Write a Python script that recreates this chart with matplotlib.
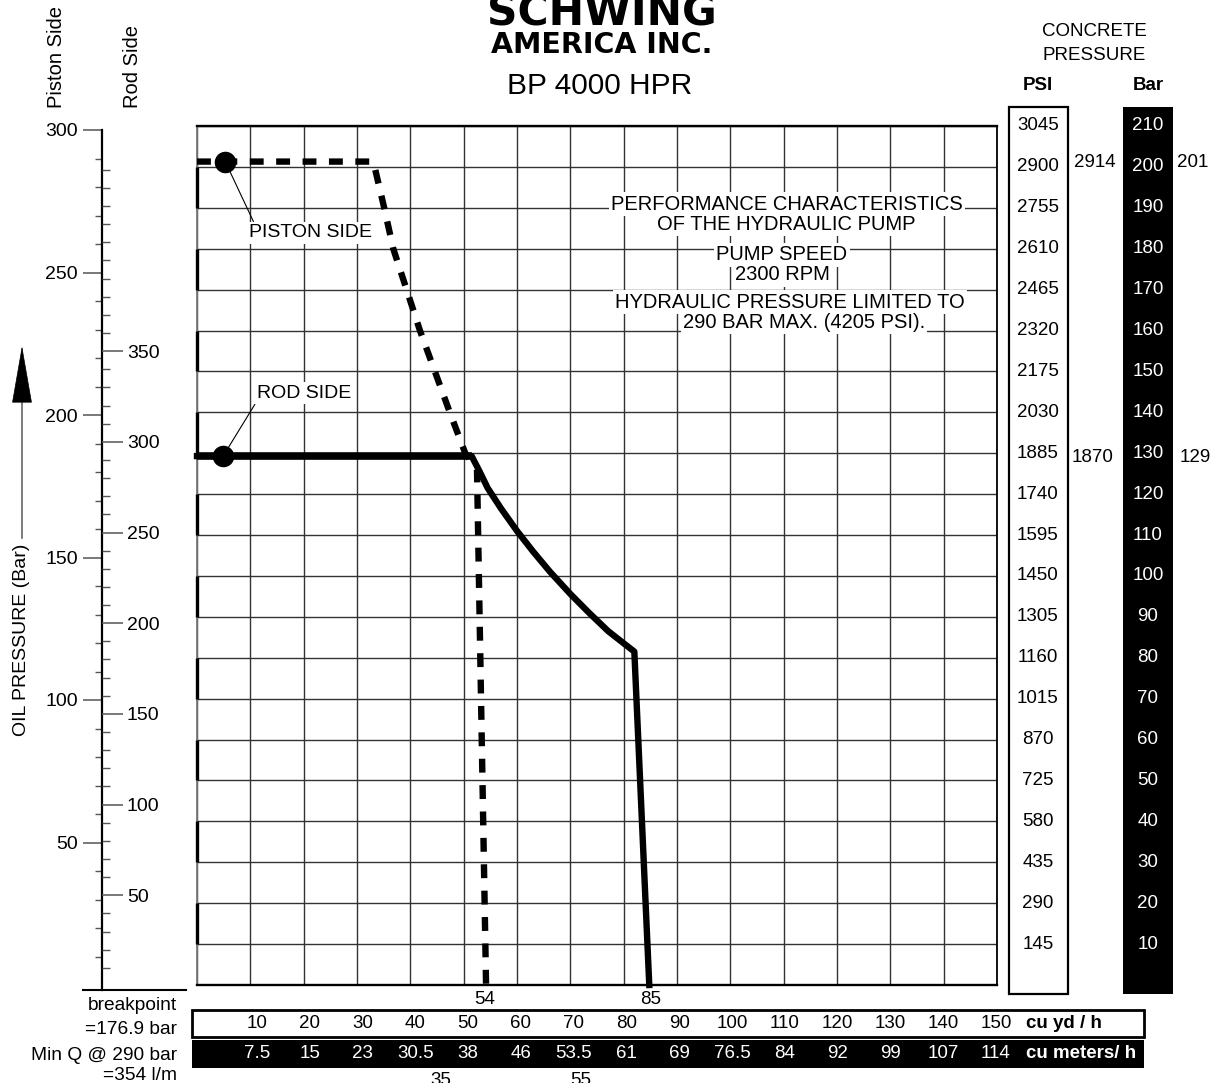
import matplotlib
matplotlib.use('Agg')
import matplotlib.pyplot as plt
from matplotlib.patches import Rectangle
from matplotlib.transforms import blended_transform_factory as blend
import numpy as np

plt.rcParams['font.family'] = ['Liberation Sans', 'DejaVu Sans']
plt.rcParams['lines.scale_dashes'] = False

# ---------------- data ----------------
cu_yd = [10, 20, 30, 40, 50, 60, 70, 80, 90, 100, 110, 120, 130, 140, 150]
cu_m = ['7.5', '15', '23', '30.5', '38', '46', '53.5', '61', '69', '76.5',
        '84', '92', '99', '107', '114']
concrete_bar = [10, 20, 30, 40, 50, 60, 70, 80, 90, 100, 110, 120, 130, 140,
                150, 160, 170, 180, 190, 200, 210]
concrete_psi = [145, 290, 435, 580, 725, 870, 1015, 1160, 1305, 1450, 1595,
                1740, 1885, 2030, 2175, 2320, 2465, 2610, 2755, 2900, 3045]
piston_major = [50, 100, 150, 200, 250, 300]
rod_major = [50, 100, 150, 200, 250, 300, 350]

# piston side (dashed) : cu yd/h vs concrete bar
piston_x = [0, 33.0, 33.3, 35.1, 36.8, 39.3, 41.8, 44.6, 47.4, 50.3, 51.5, 52.5, 54.2]
piston_y = [201.3, 201.3, 200, 190, 180, 170, 160, 150, 140, 130, 128, 126, 0]
# rod side (solid)
rod_x = [0, 51.5, 53.0, 54.5, 57.0, 60.0, 63.0, 66.2, 70.0, 73.5, 77.1, 82.0, 84.8]
rod_y = [129.3, 129.3, 125.5, 121.5, 116.5, 111.0, 106.0, 101.0, 95.6, 91.0, 86.5, 81.5, 0]

piston_marker = (5.3, 201.3)
rod_marker = (4.9, 129.3)
piston_max = (201, 2914)
rod_max = (129, 1870)
q_yd_marks = [54, 85]
q_m3_marks = [35, 55]
YD_PER_M3 = 1.308

# ---------------- figure ----------------
W, H = 1225, 1083
fig = plt.figure(figsize=(W / 100, H / 100), dpi=100)


def fx(x):
    return x / W


def fy(y):
    return 1 - y / H


# pixel overlay (for layout of decorations)
ov = fig.add_axes([0, 0, 1, 1], zorder=0)
ov.set_xlim(0, W)
ov.set_ylim(H, 0)
ov.axis('off')
P = ov.transData

# main chart
ax = fig.add_axes([fx(197), fy(985), fx(997) - fx(197), fy(126) - fy(985)], zorder=2)
ax.patch.set_alpha(0)
ax.set_xlim(0, 150)
ax.set_ylim(0, 210)
ax.set_xticks(np.arange(0, 151, 10))
ax.set_yticks(concrete_bar)
ax.tick_params(length=0, labelbottom=False, labelleft=False)
ax.grid(True, color='#333333', lw=1.0)
ax.set_axisbelow(True)
ax.spines['top'].set_linewidth(1.7)
ax.spines['bottom'].set_linewidth(1.7)
ax.spines['right'].set_linewidth(1.3)
ax.spines['left'].set_visible(False)
ax.plot([0, 0], [0, 210], color='#777777', lw=1.3, clip_on=False, zorder=2)
for top in range(20, 201, 20):
    ax.plot([0, 0], [top - 10, top], color='black', lw=2.4, clip_on=False,
            solid_capstyle='butt', zorder=2)

# curves
ax.plot(piston_x, piston_y, color='black', lw=4.6, ls=(0, (10, 9)),
        dash_capstyle='butt', zorder=5, clip_on=False)
ax.plot(rod_x, rod_y, color='black', lw=4.6, solid_joinstyle='round',
        zorder=5, clip_on=False)
ax.plot(rod_x[:2], rod_y[:2], color='black', lw=5.4, solid_capstyle='butt',
        zorder=5, clip_on=False)
ax.plot(*piston_marker, 'o', ms=14.5, color='black', zorder=6)
ax.plot(*rod_marker, 'o', ms=14.5, color='black', zorder=6)

tb = dict(facecolor='white', edgecolor='none', pad=2)
ax.annotate('PISTON SIDE', xy=piston_marker, xytext=(21.2, 183.9),
            ha='center', va='center', fontsize=14, bbox=tb, zorder=4,
            arrowprops=dict(arrowstyle='-', lw=0.8, color='black',
                            shrinkA=0, shrinkB=0, relpos=(0.05, 1)))
ax.annotate('ROD SIDE', xy=rod_marker, xytext=(20.0, 144.7),
            ha='center', va='center', fontsize=14, bbox=tb, zorder=4,
            arrowprops=dict(arrowstyle='-', lw=0.8, color='black',
                            shrinkA=0, shrinkB=0, relpos=(0.0, 0.0)))

info = [('PERFORMANCE CHARACTERISTICS', 787, 204),
        ('OF THE HYDRAULIC PUMP', 786, 224),
        ('PUMP SPEED', 782, 255),
        ('2300 RPM', 782, 275),
        ('HYDRAULIC PRESSURE LIMITED TO', 790, 302),
        ('290 BAR MAX. (4205 PSI).', 804, 322)]
for s, x, y in info:
    ax.text(x, y, s, transform=P, ha='center', va='center', fontsize=14.5,
            bbox=dict(facecolor='white', edgecolor='none', pad=1.5), zorder=3)

# ---------------- left oil pressure scales ----------------
pa = fig.add_axes([fx(102), fy(985), 0.0008, fy(126) - fy(985)], zorder=1)
pa.patch.set_alpha(0)
pa.set_ylim(0, 859 / 2.85)
pa.set_xticks([])
for s in ['top', 'bottom', 'right']:
    pa.spines[s].set_visible(False)
pa.spines['left'].set_bounds(-1.8, 300)
pa.spines['left'].set_linewidth(1.6)
pa.set_yticks(piston_major)
pa.set_yticklabels([str(v) for v in piston_major])
pa.set_yticks([v for v in range(10, 300, 10) if v not in piston_major], minor=True)
pa.tick_params(axis='y', which='major', direction='out', length=13.7, width=1.1,
               color='#555555', pad=3.6, labelsize=14)
pa.tick_params(axis='y', which='minor', direction='out', length=5, width=1.0,
               color='#555555')

ra = fig.add_axes([fx(102) - 0.0008, fy(986), 0.0008, fy(126) - fy(985)], zorder=1)
ra.patch.set_alpha(0)
ra.set_ylim(0, 859 / 1.814)
ra.set_xticks([])
for s in ['top', 'bottom', 'right', 'left']:
    ra.spines[s].set_visible(False)
ra.yaxis.tick_right()
ra.set_yticks(rod_major)
ra.set_yticklabels([str(v) for v in rod_major])
ra.set_yticks([v for v in range(10, 451, 10) if v not in rod_major], minor=True)
ra.tick_params(axis='y', which='major', direction='out', length=15, width=1.1,
               color='#555555', pad=3, labelsize=14)
ra.tick_params(axis='y', which='minor', direction='out', length=5.8, width=1.0,
               color='#555555')

ov.plot([83, 186], [990, 990], color='black', lw=1.5)
ov.text(57, 108, 'Piston Side', rotation=90, ha='center', va='bottom', fontsize=14.5)
ov.text(132, 108, 'Rod Side', rotation=90, ha='center', va='bottom', fontsize=14.5)
ov.text(22, 640, 'OIL PRESSURE (Bar)', rotation=90, ha='center', va='center', fontsize=14)
ov.plot([22, 22], [538, 395], color='#666666', lw=1.2)
ov.annotate('', xy=(22, 346), xytext=(22, 400),
            arrowprops=dict(arrowstyle='-|>,head_length=39,head_width=6.8',
                            mutation_scale=1, color='black', lw=0.5,
                            shrinkA=0, shrinkB=0))

# ---------------- header ----------------
ov.text(602, 25, 'SCHWING', ha='center', va='baseline', fontsize=30.5,
        family='DejaVu Sans', fontweight='bold')
ov.text(602, 53, 'AMERICA INC.', ha='center', va='baseline', fontsize=20.5,
        family='DejaVu Sans', fontweight='bold')
ov.text(600, 94, 'BP 4000 HPR', ha='center', va='baseline', fontsize=21.5)

ov.text(1094, 32, 'CONCRETE', ha='center', va='center', fontsize=13.5)
ov.text(1094, 55, 'PRESSURE', ha='center', va='center', fontsize=13.5)
ov.text(1038, 86, 'PSI', ha='center', va='center', fontsize=13.5, fontweight='bold')
ov.text(1148, 86, 'Bar', ha='center', va='center', fontsize=13.5, fontweight='bold')

# ---------------- right concrete pressure columns ----------------
ov.add_patch(Rectangle((1009, 107), 59, 887, facecolor='white',
                       edgecolor='black', lw=1.6))
ov.add_patch(Rectangle((1123, 107), 49.5, 887, facecolor='black',
                       edgecolor='black', lw=0))
TY = blend(P, ax.transData)
for b, p in zip(concrete_bar, concrete_psi):
    ov.text(1038, b, str(p), transform=TY, ha='center', va='center', fontsize=13.5)
    ov.text(1148, b, str(b), transform=TY, ha='center', va='center', fontsize=13.5,
            color='white')
ov.text(1095, piston_max[0], str(piston_max[1]), transform=TY, ha='center',
        va='center', fontsize=13.5)
ov.text(1193, piston_max[0], str(piston_max[0]), transform=TY, ha='center',
        va='center', fontsize=13.5)
ov.text(1093, rod_max[0], str(rod_max[1]), transform=TY, ha='center',
        va='center', fontsize=13.5)
ov.text(1195, rod_max[0], str(rod_max[0]), transform=TY, ha='center',
        va='center', fontsize=13.5)

# ---------------- bottom tables ----------------
ov.add_patch(Rectangle((192, 1010), 952, 27, facecolor='white',
                       edgecolor='black', lw=2.0))
ov.add_patch(Rectangle((192, 1040), 952, 28, facecolor='black',
                       edgecolor='black', lw=0))
TX = blend(ax.transData, P)
for v, m in zip(cu_yd, cu_m):
    xpos = 11.25 + (v - 10) * 0.9896
    ov.text(xpos, 1023.5, str(v), transform=TX, ha='center', va='center', fontsize=13.5)
    ov.text(xpos, 1054, m, transform=TX, ha='center', va='center', fontsize=13.5,
            color='white')
ov.text(1026, 1023.5, 'cu yd / h', ha='left', va='center', fontsize=13.5,
        fontweight='bold')
ov.text(1026, 1054, 'cu meters/ h', ha='left', va='center', fontsize=13.5,
        fontweight='bold', color='white')

for q in q_yd_marks:
    ov.text(q, 999, str(q), transform=TX, ha='center', va='center', fontsize=13.5)
for q in q_m3_marks:
    ov.text(q * YD_PER_M3, 1072, str(q), transform=TX, ha='center', va='top',
            fontsize=13.5)

ov.text(177, 1006, 'breakpoint', ha='right', va='center', fontsize=13.8)
ov.text(177, 1029, '=176.9 bar', ha='right', va='center', fontsize=13.8)
ov.text(177, 1055, 'Min Q @ 290 bar', ha='right', va='center', fontsize=13.8)
ov.text(177, 1075, '=354 l/m', ha='right', va='center', fontsize=13.8)

fig.savefig('out.png', dpi=100)
